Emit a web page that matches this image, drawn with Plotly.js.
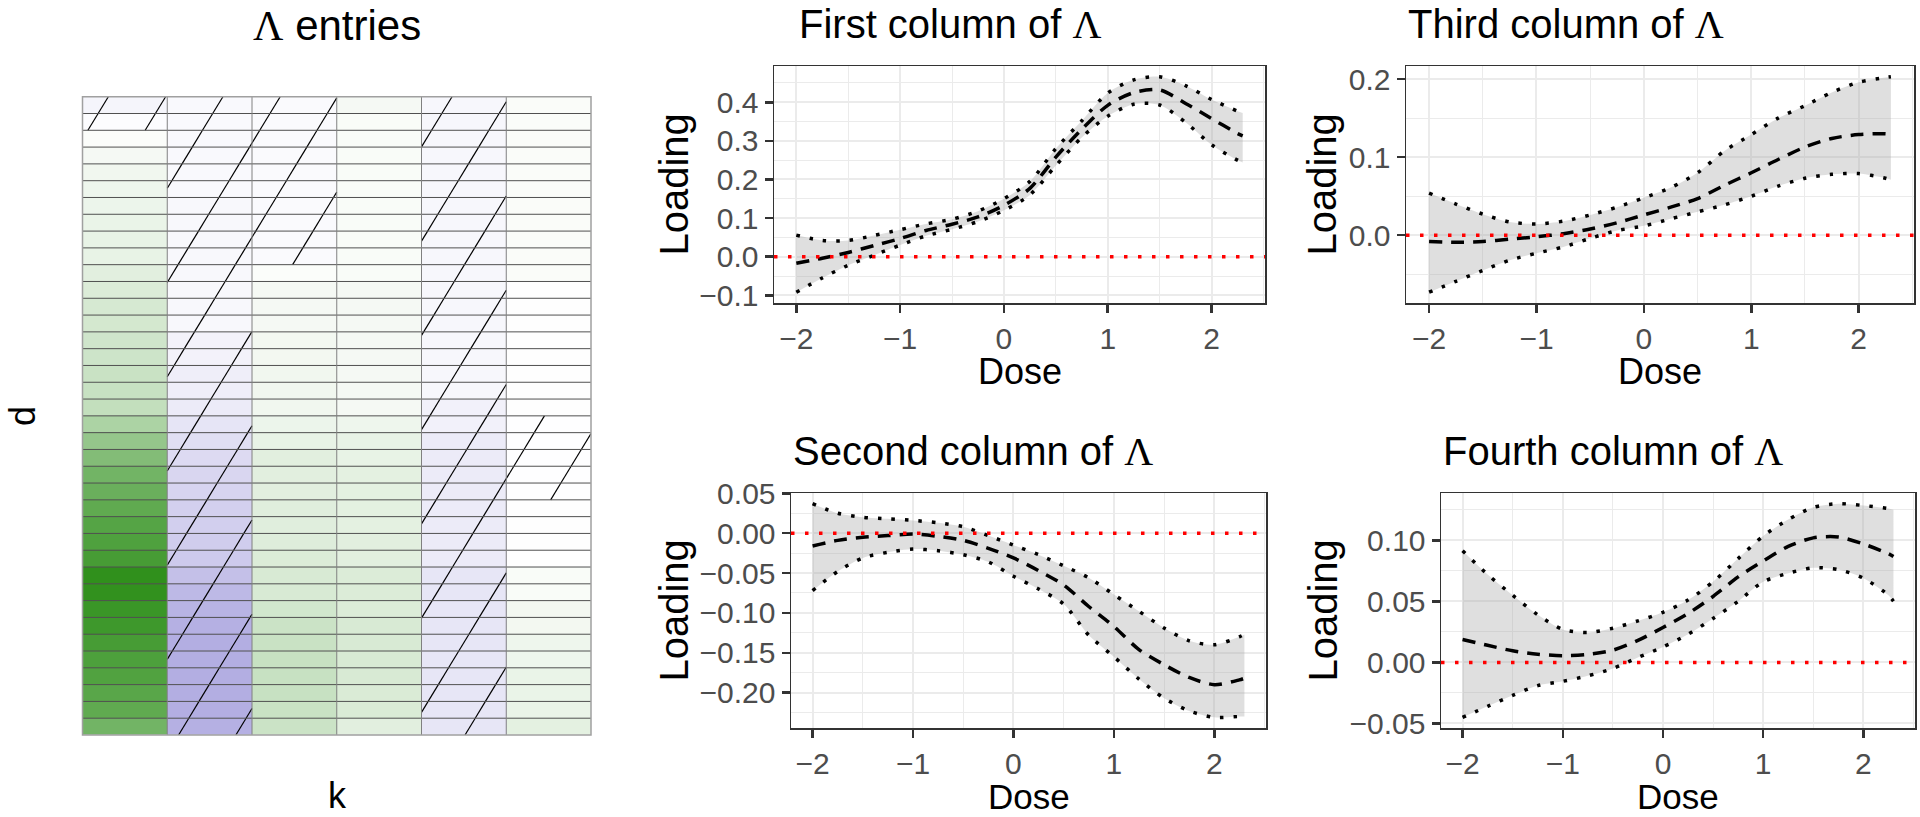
<!DOCTYPE html>
<html>
<head>
<meta charset="utf-8">
<script src="https://cdn.plot.ly/plotly-3.0.1.min.js"></script>
<style>html,body{margin:0;padding:0;background:#fff;}#chart{width:1920px;height:817px;}</style>
</head>
<body>
<div id="chart"></div>
<script>
// ---------------- DATA ----------------
const doseGrid = [-2,-1.75,-1.5,-1.25,-1,-0.75,-0.5,-0.25,0,0.25,0.5,0.75,1,1.25,1.5,1.75,2,2.25,2.3];

const col1Mean  = [-0.017,-0.004,0.011,0.029,0.047,0.068,0.084,0.103,0.133,0.177,0.258,0.330,0.392,0.425,0.432,0.397,0.358,0.319,0.313];
const col1Lower = [-0.092,-0.055,-0.022,0.004,0.030,0.054,0.071,0.091,0.120,0.160,0.236,0.309,0.364,0.395,0.393,0.348,0.290,0.250,0.244];
const col1Upper = [0.056,0.042,0.042,0.055,0.070,0.085,0.097,0.118,0.150,0.195,0.280,0.352,0.424,0.458,0.466,0.443,0.407,0.377,0.372];

const col2Mean  = [-0.016,-0.009,-0.005,-0.003,-0.001,-0.004,-0.009,-0.019,-0.031,-0.047,-0.065,-0.092,-0.117,-0.146,-0.165,-0.181,-0.190,-0.184,-0.182];
const col2Lower = [-0.072,-0.048,-0.031,-0.024,-0.020,-0.022,-0.027,-0.036,-0.054,-0.070,-0.089,-0.128,-0.155,-0.183,-0.207,-0.223,-0.231,-0.230,-0.230];
const col2Upper = [0.037,0.025,0.020,0.018,0.016,0.013,0.008,-0.003,-0.015,-0.027,-0.041,-0.056,-0.077,-0.098,-0.119,-0.135,-0.140,-0.130,-0.127];

const col3Mean  = [-0.008,-0.009,-0.008,-0.005,-0.002,0.002,0.008,0.016,0.026,0.036,0.047,0.064,0.080,0.097,0.113,0.124,0.129,0.130,0.129];
const col3Lower = [-0.073,-0.059,-0.045,-0.032,-0.023,-0.015,-0.004,0.006,0.012,0.021,0.030,0.039,0.050,0.063,0.073,0.078,0.079,0.073,0.071];
const col3Upper = [0.054,0.040,0.027,0.017,0.0145,0.018,0.026,0.036,0.048,0.061,0.080,0.108,0.129,0.150,0.166,0.183,0.196,0.202,0.203];

const col4Mean  = [0.0187,0.014,0.0095,0.0067,0.0055,0.0065,0.010,0.018,0.0286,0.040,0.054,0.070,0.083,0.095,0.102,0.1027,0.097,0.089,0.0867];
const col4Lower = [-0.045,-0.036,-0.027,-0.019,-0.0155,-0.011,-0.005,0.004,0.0126,0.023,0.036,0.050,0.066,0.073,0.0775,0.076,0.069,0.055,0.050];
const col4Upper = [0.0915,0.072,0.055,0.039,0.027,0.0245,0.028,0.034,0.041,0.051,0.066,0.085,0.1035,0.117,0.127,0.130,0.1285,0.126,0.125];

// Lambda entries (rows d = 1..38 from top, one array per column k)
const kLabels = [1,2,3,4,5,6];
const dLabels = [1,2,3,4,5,6,7,8,9,10,11,12,13,14,15,16,17,18,19,20,21,22,23,24,25,26,27,28,29,30,31,32,33,34,35,36,37,38];
const lambdaK1 = [-0.05,-0.015,0.02,0.05,0.07,0.08,0.09,0.10,0.11,0.11,0.14,0.17,0.20,0.21,0.23,0.24,0.26,0.27,0.29,0.40,0.51,0.60,0.68,0.72,0.77,0.82,0.85,0.89,1.00,0.99,0.95,0.93,0.89,0.86,0.84,0.80,0.77,0.68];
const lambdaK2 = [-0.03,-0.03,-0.03,-0.03,-0.03,-0.03,-0.035,-0.035,-0.035,-0.035,-0.035,-0.035,-0.035,-0.035,-0.063,-0.063,-0.084,-0.084,-0.10,-0.13,-0.16,-0.18,-0.20,-0.21,-0.23,-0.235,-0.245,-0.26,-0.31,-0.345,-0.37,-0.39,-0.40,-0.40,-0.40,-0.40,-0.40,-0.39];
const lambdaK3 = [-0.025,-0.025,-0.025,-0.025,-0.025,-0.025,-0.025,-0.025,-0.025,-0.025,0.02,0.05,0.05,0.05,0.06,0.06,0.07,0.07,0.07,0.09,0.11,0.14,0.14,0.14,0.15,0.15,0.16,0.17,0.19,0.19,0.22,0.25,0.26,0.27,0.27,0.27,0.26,0.25];
const lambdaK4 = [0.05,0.03,0.03,0.03,0.03,0.03,0.03,0.03,0.03,0.03,0.03,0.05,0.05,0.05,0.05,0.05,0.05,0.05,0.05,0.08,0.11,0.11,0.13,0.13,0.13,0.13,0.14,0.14,0.17,0.17,0.17,0.19,0.19,0.19,0.19,0.18,0.18,0.14];
const lambdaK5 = [-0.04,-0.04,-0.04,-0.04,-0.04,-0.04,-0.04,-0.04,-0.04,-0.04,-0.04,-0.04,-0.04,-0.04,-0.04,-0.04,-0.04,-0.04,-0.07,-0.07,-0.10,-0.10,-0.10,-0.10,-0.10,-0.10,-0.10,-0.10,-0.125,-0.125,-0.125,-0.125,-0.125,-0.125,-0.125,-0.125,-0.125,-0.125];
const lambdaK6 = [0.025,0.025,0.025,0.025,0.025,0.025,0.025,0.025,0.025,0.025,0.025,0.005,0.005,0.005,0.005,0.005,0.005,0.005,0.005,-0.005,-0.005,-0.005,-0.005,-0.005,0.005,0.005,0.005,0.005,0.03,0.03,0.06,0.06,0.08,0.08,0.10,0.10,0.10,0.13];

// ---------------- LAYOUT HELPERS ----------------
const W = 1920, H = 817;
const pxX = x => x / W;
const pxY = y => 1 - y / H;
const SANS = 'Liberation Sans, Arial, sans-serif';
const LAM = '<span style="font-family:Liberation Serif,Times New Roman,serif">Λ</span>';

function padRange(arrs) {
  let lo = Infinity, hi = -Infinity;
  arrs.forEach(a => a.forEach(v => { if (v < lo) lo = v; if (v > hi) hi = v; }));
  lo = Math.min(lo, 0); hi = Math.max(hi, 0);
  const s = hi - lo;
  return [lo - 0.05 * s, hi + 0.05 * s];
}

const panels = [
  {title: 'First column of ' + LAM, mean: col1Mean, lo: col1Lower, hi: col1Upper, box: [774, 66, 1265, 303], titleX: 797, dtick: 0.1, fmt: '.1f', minor: 0.05, loadX: 674},
  {title: 'Third column of ' + LAM, mean: col3Mean, lo: col3Lower, hi: col3Upper, box: [1406, 66, 1914, 303], titleX: 1406, dtick: 0.1, fmt: '.1f', minor: 0.05, loadX: 1322},
  {title: 'Second column of ' + LAM, mean: col2Mean, lo: col2Lower, hi: col2Upper, box: [791, 493, 1266, 728], titleX: 791, dtick: 0.05, fmt: '.2f', minor: 0.025, loadX: 673},
  {title: 'Fourth column of ' + LAM, mean: col4Mean, lo: col4Lower, hi: col4Upper, box: [1441, 493, 1915, 728], titleX: 1441, dtick: 0.05, fmt: '.2f', minor: 0.025, loadX: 1322}
];

const traces = [];
const layout = {
  width: W, height: H,
  margin: {l: 0, r: 0, t: 0, b: 0},
  paper_bgcolor: '#ffffff', plot_bgcolor: '#ffffff',
  showlegend: false, hovermode: false,
  font: {family: SANS, color: '#000'},
  annotations: [], shapes: []
};

const xr = padRange([doseGrid]);
const axisCommon = {
  ticks: 'outside', ticklen: 8, tickwidth: 2.5, tickcolor: '#333333',
  showline: true, linecolor: '#333333', linewidth: 1.5, mirror: true,
  showgrid: true, gridcolor: '#ebebeb', gridwidth: 2, zeroline: false,
  tickfont: {family: SANS, size: 30, color: '#4d4d4d'},
  fixedrange: true
};

panels.forEach((p, i) => {
  const n = i + 1;
  const xa = 'x' + n, ya = 'y' + n;
  const [x0, y0, x1, y1] = p.box;
  layout['xaxis' + n] = Object.assign({}, axisCommon, {
    domain: [pxX(x0), pxX(x1)], anchor: ya, range: xr,
    tickmode: 'linear', tick0: 0, dtick: 1,
    minor: {dtick: 0.5, tick0: 0, showgrid: true, gridcolor: '#ebebeb', gridwidth: 1}
  });
  layout['yaxis' + n] = Object.assign({}, axisCommon, {
    domain: [pxY(y1), pxY(y0)], anchor: xa, range: padRange([p.lo, p.hi]),
    tickmode: 'linear', tick0: 0, dtick: p.dtick, tickformat: p.fmt,
    minor: {dtick: p.minor, tick0: 0, showgrid: true, gridcolor: '#ebebeb', gridwidth: 1}
  });
  // ribbon
  traces.push({type: 'scatter', mode: 'lines', x: doseGrid, y: p.lo, xaxis: xa, yaxis: ya,
    line: {width: 0, shape: 'spline', smoothing: 0.8}, hoverinfo: 'skip'});
  traces.push({type: 'scatter', mode: 'lines', x: doseGrid, y: p.hi, xaxis: xa, yaxis: ya,
    fill: 'tonexty', fillcolor: 'rgba(160,160,160,0.34)',
    line: {width: 0, shape: 'spline', smoothing: 0.8}, hoverinfo: 'skip'});
  // bounds (dotted) and mean (dashed)
  [p.lo, p.hi].forEach(arr => traces.push({type: 'scatter', mode: 'lines', x: doseGrid, y: arr, xaxis: xa, yaxis: ya,
    line: {color: '#000', width: 3.5, dash: '3.5px,10px', shape: 'spline', smoothing: 0.8}, hoverinfo: 'skip'}));
  traces.push({type: 'scatter', mode: 'lines', x: doseGrid, y: p.mean, xaxis: xa, yaxis: ya,
    line: {color: '#000', width: 3.5, dash: '13px,9px', shape: 'spline', smoothing: 0.8}, hoverinfo: 'skip'});
  // zero reference line
  layout.shapes.push({type: 'line', xref: xa + ' domain', x0: 0, x1: 1, yref: ya, y0: 0, y1: 0,
    line: {color: '#ff0000', width: 3.5, dash: '3.5px,10.5px'}, layer: 'above'});
  // titles
  layout.annotations.push({text: p.title, xref: 'paper', yref: 'paper', x: pxX(p.titleX), y: pxY(y0 - 66),
    xanchor: 'left', yanchor: 'top', showarrow: false, font: {family: SANS, size: 40, color: '#000'}});
  const doseAnn = (n <= 2)
    ? {y: pxY(y1 + 46), yanchor: 'top', font: {family: SANS, size: 36, color: '#000'}}
    : {y: pxY(H), yanchor: 'bottom', borderpad: 0, font: {family: SANS, size: 35, color: '#000'}};
  layout.annotations.push(Object.assign({text: 'Dose', xref: 'paper', yref: 'paper', x: pxX((x0 + x1) / 2),
    xanchor: 'center', showarrow: false}, doseAnn));
  layout.annotations.push({text: 'Loading', xref: 'paper', yref: 'paper', x: pxX(p.loadX), y: pxY((y0 + y1) / 2),
    xanchor: 'center', yanchor: 'middle', textangle: -90, showarrow: false, font: {family: SANS, size: 40, color: '#000'}});
});

// ---------------- HEATMAP ----------------
const lambdaCols = [lambdaK1, lambdaK2, lambdaK3, lambdaK4, lambdaK5, lambdaK6];
const heatZ = dLabels.map((d, i) => lambdaCols.map(c => c[i]));
layout.xaxis5 = {domain: [pxX(82.5), pxX(591)], anchor: 'y5', range: [0.5, 6.5], visible: false, fixedrange: true};
layout.yaxis5 = {domain: [pxY(735), pxY(96.7)], anchor: 'x5', range: [38.5, 0.5], visible: false, fixedrange: true};
traces.push({type: 'heatmap', z: heatZ, x: kLabels, y: dLabels, xaxis: 'x5', yaxis: 'y5',
  zmin: -1, zmax: 1, showscale: false, hoverinfo: 'skip',
  colorscale: [[0, 'rgb(64,52,182)'], [0.5, 'rgb(255,255,255)'], [1, 'rgb(48,144,28)']]});

// hatching over negative cells (continuous parallel lines clipped to cells)
const hatch = {slope: -8.3, spacing: 5.61, x0: 1.5, r0: 5.95};
const hx = [], hy = [];
heatZ.forEach((row, i) => row.forEach((v, j) => {
  if (v >= 0) return;
  const cx = kLabels[j], cr = dLabels[i];
  const xl = cx - 0.5, xr2 = cx + 0.5, rt = cr - 0.5, rb = cr + 0.5;
  const s = hatch.slope;
  const aVals = [rt - s * (xl - hatch.x0), rt - s * (xr2 - hatch.x0), rb - s * (xl - hatch.x0), rb - s * (xr2 - hatch.x0)];
  const kmin = Math.ceil((Math.min(...aVals) - hatch.r0) / hatch.spacing);
  const kmax = Math.floor((Math.max(...aVals) - hatch.r0) / hatch.spacing);
  for (let k = kmin; k <= kmax; k++) {
    const a = hatch.r0 + k * hatch.spacing;
    const xA = hatch.x0 + (rb - a) / s, xB = hatch.x0 + (rt - a) / s;
    const xs = Math.max(xl, Math.min(xA, xB)), xe = Math.min(xr2, Math.max(xA, xB));
    if (xe > xs) {
      hx.push(xs, xe, null);
      hy.push(a + s * (xs - hatch.x0), a + s * (xe - hatch.x0), null);
    }
  }
}));
traces.push({type: 'scatter', mode: 'lines', x: hx, y: hy, xaxis: 'x5', yaxis: 'y5',
  line: {color: '#000', width: 1.2}, hoverinfo: 'skip', connectgaps: false});

// cell borders
const bhx = [], bhy = [];
dLabels.slice(0, -1).forEach(d => { bhx.push(0.5, 6.5, null); bhy.push(d + 0.5, d + 0.5, null); });
traces.push({type: 'scatter', mode: 'lines', x: bhx, y: bhy, xaxis: 'x5', yaxis: 'y5',
  line: {color: '#505050', width: 1}, hoverinfo: 'skip'});
const bvx = [], bvy = [];
kLabels.slice(0, -1).forEach(k => { bvx.push(k + 0.5, k + 0.5, null); bvy.push(0.5, 38.5, null); });
traces.push({type: 'scatter', mode: 'lines', x: bvx, y: bvy, xaxis: 'x5', yaxis: 'y5',
  line: {color: '#808080', width: 1}, hoverinfo: 'skip'});
layout.shapes.push({type: 'rect', xref: 'x5 domain', yref: 'y5 domain', x0: 0, x1: 1, y0: 0, y1: 1,
  line: {color: '#a0a0a0', width: 1.5}, layer: 'above'});

layout.annotations.push({text: LAM + ' entries', xref: 'paper', yref: 'paper', x: pxX(337), y: pxY(0),
  xanchor: 'center', yanchor: 'top', showarrow: false, font: {family: SANS, size: 42, color: '#000'}});
layout.annotations.push({text: 'k', xref: 'paper', yref: 'paper', x: pxX(337), y: pxY(H),
  xanchor: 'center', yanchor: 'bottom', borderpad: 0, showarrow: false, font: {family: SANS, size: 36, color: '#000'}});
layout.annotations.push({text: 'd', xref: 'paper', yref: 'paper', x: pxX(22), y: pxY(416),
  xanchor: 'center', yanchor: 'middle', textangle: -90, showarrow: false, font: {family: SANS, size: 36, color: '#000'}});

Plotly.newPlot('chart', traces, layout, {displayModeBar: false, staticPlot: true});
</script>
</body>
</html>
